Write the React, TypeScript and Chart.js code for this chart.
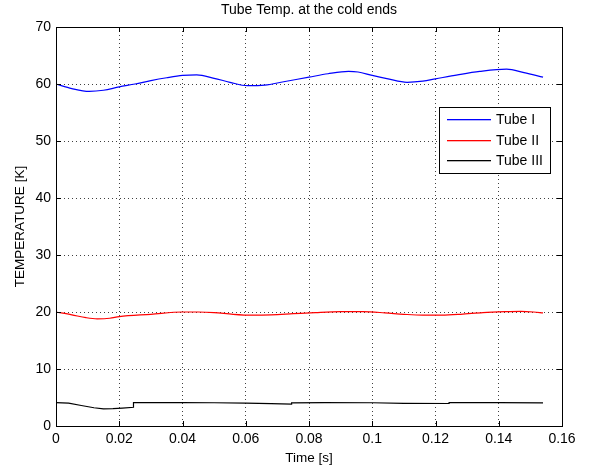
import React, { useEffect, useRef } from "react";
import { Chart, registerables } from "chart.js";

Chart.register(...registerables);

const chartTitle = "Tube Temp. at the cold ends";
const xAxisTitle = "Time [s]";
const yAxisTitle = "TEMPERATURE [K]";
const seriesNames = ["Tube I", "Tube II", "Tube III"];
const seriesColors = ["#0000ff", "#ff0000", "#000000"];

const xTickValues = [0, 0.02, 0.04, 0.06, 0.08, 0.1, 0.12, 0.14, 0.16];
const xTickLabels = ["0", "0.02", "0.04", "0.06", "0.08", "0.1", "0.12", "0.14", "0.16"];
const yTickValues = [0, 10, 20, 30, 40, 50, 60, 70];
const yTickLabels = ["0", "10", "20", "30", "40", "50", "60", "70"];

const tube1Time = [0, 0.005, 0.0105, 0.015, 0.02, 0.025, 0.03, 0.035, 0.04, 0.0445, 0.05, 0.055, 0.0605, 0.066, 0.072, 0.08, 0.086, 0.0925, 0.0955, 0.1, 0.105, 0.111, 0.116, 0.12, 0.127, 0.134, 0.1425, 0.148, 0.154];
const tube1Temp = [60.0, 59.2, 58.7, 58.9, 59.5, 60.0, 60.6, 61.1, 61.5, 61.6, 61.0, 60.3, 59.7, 59.8, 60.4, 61.2, 61.8, 62.2, 62.1, 61.5, 60.9, 60.3, 60.5, 60.9, 61.6, 62.2, 62.6, 62.0, 61.2];

const tube2Time = [0, 0.005, 0.0095, 0.013, 0.017, 0.02, 0.03, 0.04, 0.045, 0.05, 0.056, 0.062, 0.068, 0.075, 0.082, 0.09, 0.097, 0.104, 0.11, 0.116, 0.122, 0.128, 0.135, 0.142, 0.147, 0.151, 0.154];
const tube2Temp = [20.0, 19.5, 19.0, 18.8, 18.9, 19.2, 19.6, 20.0, 20.0, 19.9, 19.6, 19.45, 19.5, 19.7, 19.9, 20.05, 20.05, 19.85, 19.6, 19.45, 19.45, 19.6, 19.9, 20.05, 20.1, 20.0, 19.85];

const tube3Time = [0, 0.004, 0.008, 0.012, 0.015, 0.018, 0.021, 0.0245, 0.0245, 0.03, 0.04, 0.05, 0.06, 0.068, 0.0745, 0.0745, 0.085, 0.1, 0.11, 0.1243, 0.1243, 0.14, 0.154];
const tube3Temp = [4.1, 4.0, 3.6, 3.2, 3.0, 3.05, 3.15, 3.28, 4.1, 4.1, 4.1, 4.08, 4.0, 3.92, 3.85, 4.05, 4.1, 4.08, 3.98, 3.95, 4.1, 4.1, 4.05];

const toPoints = (t: number[], v: number[]) => t.map((x, i) => ({ x, y: v[i] }));

const FONT = "'Liberation Sans', Arial, Helvetica, sans-serif";

export default function App() {
  const canvasRef = useRef<HTMLCanvasElement | null>(null);

  useEffect(() => {
    document.body.style.margin = "0";
    const canvas = canvasRef.current;
    if (!canvas) return;

    const framePlugin = {
      id: "matlabFrame",
      afterDraw(chart: any) {
        const { ctx, chartArea } = chart;
        const { left, right, top, bottom } = chartArea;
        const xs = chart.scales.x;
        const ys = chart.scales.y;
        ctx.save();
        ctx.setLineDash([]);
        ctx.strokeStyle = "#000";
        ctx.lineWidth = 1;
        ctx.strokeRect(Math.round(left) + 0.5, Math.round(top) + 0.5, Math.round(right - left), Math.round(bottom - top));
        const tl = 5;
        ctx.beginPath();
        xTickValues.forEach((v) => {
          const px = Math.round(xs.getPixelForValue(v)) + 0.5;
          ctx.moveTo(px, bottom);
          ctx.lineTo(px, bottom - tl);
          ctx.moveTo(px, top);
          ctx.lineTo(px, top + tl);
        });
        yTickValues.forEach((v) => {
          const py = Math.round(ys.getPixelForValue(v)) + 0.5;
          ctx.moveTo(left, py);
          ctx.lineTo(left + tl, py);
          ctx.moveTo(right, py);
          ctx.lineTo(right - tl, py);
        });
        ctx.stroke();

        ctx.fillStyle = "#000";
        ctx.font = `14px ${FONT}`;
        ctx.textAlign = "center";
        ctx.textBaseline = "middle";
        ctx.fillText(chartTitle, (left + right) / 2, 10);

        const bx = 439.5, by = 107.5, bw = 111, bh = 66;
        ctx.fillStyle = "#fff";
        ctx.fillRect(bx, by, bw, bh);
        ctx.strokeStyle = "#000";
        ctx.strokeRect(bx, by, bw, bh);
        const rows = [119, 140, 160];
        for (let i = 0; i < seriesNames.length; i++) {
          ctx.fillStyle = seriesColors[i];
          ctx.fillRect(447, rows[i], 44, 1.3);
          ctx.fillStyle = "#000";
          ctx.textAlign = "left";
          ctx.textBaseline = "middle";
          ctx.font = `14px ${FONT}`;
          ctx.fillText(seriesNames[i], 496, rows[i] + 1);
        }
        ctx.restore();
      },
    };

    const chart = new Chart(canvas, {
      type: "line",
      data: {
        datasets: [
          { label: seriesNames[0], data: toPoints(tube1Time, tube1Temp), borderColor: seriesColors[0], borderWidth: 1.2, pointRadius: 0, tension: 0, cubicInterpolationMode: "monotone", fill: false },
          { label: seriesNames[1], data: toPoints(tube2Time, tube2Temp), borderColor: seriesColors[1], borderWidth: 1.2, pointRadius: 0, tension: 0, cubicInterpolationMode: "monotone", fill: false },
          { label: seriesNames[2], data: toPoints(tube3Time, tube3Temp), borderColor: seriesColors[2], borderWidth: 1.2, pointRadius: 0, tension: 0, fill: false },
        ],
      },
      options: {
        responsive: false,
        animation: false,
        devicePixelRatio: 1,
        layout: { padding: { top: 27, right: 36, left: 0, bottom: 0 } },
        plugins: {
          legend: { display: false },
          title: { display: false },
          tooltip: { enabled: false },
        },
        scales: {
          x: {
            type: "linear",
            min: 0,
            max: 0.16,
            afterFit: (s: any) => { s.height = 41; },
            afterBuildTicks: (s: any) => { s.ticks = xTickValues.map((v) => ({ value: v })); },
            ticks: {
              color: "#000",
              font: { family: FONT, size: 14 },
              padding: 5,
              maxRotation: 0,
              autoSkip: false,
              callback: (v: any, i: number) => xTickLabels[i],
            },
            grid: { color: "rgba(0,0,0,0.75)", drawTicks: false, lineWidth: 1 },
            border: { display: false, dash: [1, 3] },
            title: { display: true, text: xAxisTitle, color: "#000", font: { family: FONT, size: 13.5 }, padding: { top: 0, bottom: 1 } },
          },
          y: {
            type: "linear",
            min: 0,
            max: 70,
            afterFit: (s: any) => { s.width = 56; },
            afterBuildTicks: (s: any) => { s.ticks = yTickValues.map((v) => ({ value: v })); },
            ticks: {
              color: "#000",
              font: { family: FONT, size: 14 },
              padding: 5,
              autoSkip: false,
              callback: (v: any, i: number) => yTickLabels[i],
            },
            grid: { color: "rgba(0,0,0,0.75)", drawTicks: false, lineWidth: 1 },
            border: { display: false, dash: [1, 3] },
            title: { display: true, text: yAxisTitle, color: "#000", font: { family: FONT, size: 13.5 }, padding: { top: 12, bottom: 0 } },
          },
        },
      },
      plugins: [framePlugin],
    } as any);

    return () => chart.destroy();
  }, []);

  return (
    <div style={{ width: 598, height: 467, background: "#fff" }}>
      <canvas ref={canvasRef} width={598} height={467} style={{ display: "block" }} />
    </div>
  );
}
